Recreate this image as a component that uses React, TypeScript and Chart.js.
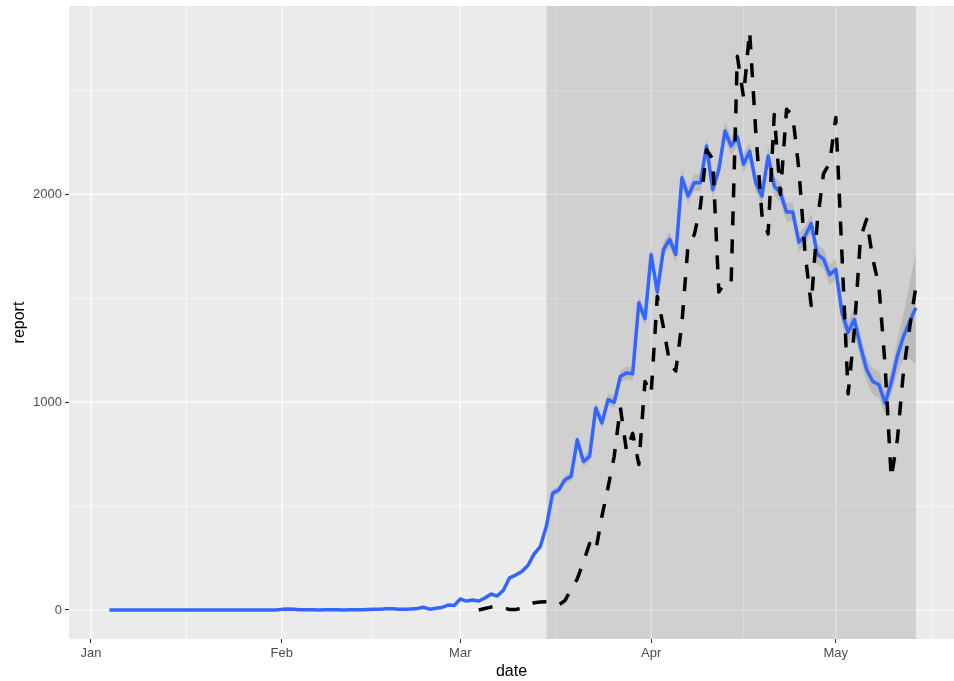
import React, { useEffect, useRef } from "react";
import { Chart, registerables } from "chart.js";

Chart.register(...registerables);

// ---------- data ----------
const YEAR_START = Date.UTC(2020, 0, 1);
const dayOf = (iso: string) => (Date.parse(iso + "T00:00:00Z") - YEAR_START) / 86400000;

const monthTickDates = ["2020-01-01", "2020-02-01", "2020-03-01", "2020-04-01", "2020-05-01"];
const monthTickLabels = ["Jan", "Feb", "Mar", "Apr", "May"];
const monthBoundaryDates = ["2020-01-01", "2020-02-01", "2020-03-01", "2020-04-01", "2020-05-01", "2020-06-01"];
const yMajorTicks = [0, 1000, 2000];
const yMinorTicks = [500, 1500, 2500];

const shadeStart = "2020-03-15";
const shadeEnd = "2020-05-14";

// blue line: daily from 2020-01-04 to 2020-05-14
const blueStart = "2020-01-04";
const blueValues = [
  // Jan 4 - Jan 31
  0, 0, 0, 0, 0, 0, 0, 0, 0, 0, 0, 0, 0, 0, 0, 0, 0, 0, 0, 0, 0, 0, 0, 0, 0, 0, 0, 0,
  // Feb
  3, 5, 3, 1, 1, 1, 0, 1, 1, 1, 0, 1, 1, 1, 2, 3, 4, 6, 6, 4, 3, 5, 7, 13, 4, 8, 12, 24, 22,
  // Mar
  53, 43, 48, 43, 58, 77, 67, 95, 155, 168, 185, 215, 270, 305, 405, 562, 578, 627, 643, 819,
  715, 739, 972, 900, 1012, 999, 1124, 1141, 1137, 1478, 1402,
  // Apr
  1711, 1530, 1735, 1783, 1711, 2080, 1992, 2056, 2056, 2233, 2024, 2120, 2305, 2233, 2278,
  2145, 2207, 2056, 1992, 2185, 2040, 2008, 1915, 1915, 1770, 1799, 1860, 1711, 1690, 1614,
  // May 1 - 14
  1639, 1430, 1337, 1398, 1269, 1157, 1100, 1084, 996, 1093, 1221, 1317, 1389, 1454,
];

// confidence band half-width around blue line, daily from 2020-03-01
const ribbonStart = "2020-03-01";
const ribbonSpread = [
  4, 4, 4, 4, 5, 5, 6, 6, 7, 8, 9, 10, 12, 14, 16, 18, 20, 20, 22, 22, 24, 24, 26, 26, 28, 28, 30, 30, 32, 32, 34,
  35, 35, 36, 36, 38, 38, 40, 40, 40, 42, 42, 42, 44, 44, 44, 44, 45, 45, 45, 45, 45, 45, 45, 45, 46, 46, 46, 48, 48, 50,
  50, 52, 54, 56, 58, 60, 62, 64, 55, 60, 80, 110, 180, 270,
];

// black dashed line: daily from 2020-03-04 to 2020-05-14
const blackStart = "2020-03-04";
const blackValues = [
  // Mar 4 - 31
  0, 7, 14, 20, 12, 2, 2, 10, 25, 35, 38, 40, 38, 25, 45, 100, 150, 230, 320, 285, 450, 590, 740, 975, 765, 850, 700, 1100,
  // Apr
  1040, 1510, 1360, 1190, 1150, 1380, 1760, 1805, 1940, 2215, 2170, 1530, 1578, 1575, 2665,
  2470, 2785, 2300, 1900, 1810, 2385, 2000, 2410, 2380, 2120, 1720, 1465, 1870, 2100, 2150,
  // May 1 - 14
  2370, 1710, 1040, 1340, 1790, 1880, 1690, 1560, 1180, 635, 820, 1150, 1360, 1555,
];

// ---------- helpers ----------
const series = (start: string, values: number[]) => {
  const d0 = dayOf(start);
  return values.map((v, i) => ({ x: d0 + i, y: v }));
};

const monthTickDays = monthTickDates.map(dayOf);
const minorXDays = monthBoundaryDates.slice(1).map((d, i) => (dayOf(d) + dayOf(monthBoundaryDates[i])) / 2);

const FONT = "'Liberation Sans', Arial, Helvetica, sans-serif";

const panelPlugin = {
  id: "ggpanel",
  beforeDatasetsDraw(chart: any) {
    const { ctx, chartArea: a, scales } = chart;
    const x = scales.x;
    const y = scales.y;
    ctx.save();
    ctx.beginPath();
    ctx.rect(a.left, a.top, a.right - a.left, a.bottom - a.top);
    ctx.clip();
    ctx.fillStyle = "#EBEBEB";
    ctx.fillRect(a.left, a.top, a.right - a.left, a.bottom - a.top);
    ctx.strokeStyle = "#FFFFFF";
    ctx.lineWidth = 0.6;
    ctx.beginPath();
    for (const v of yMinorTicks) {
      const py = y.getPixelForValue(v);
      ctx.moveTo(a.left, py);
      ctx.lineTo(a.right, py);
    }
    for (const v of minorXDays) {
      const px = x.getPixelForValue(v);
      ctx.moveTo(px, a.top);
      ctx.lineTo(px, a.bottom);
    }
    ctx.stroke();
    ctx.lineWidth = 1.2;
    ctx.beginPath();
    for (const v of yMajorTicks) {
      const py = y.getPixelForValue(v);
      ctx.moveTo(a.left, py);
      ctx.lineTo(a.right, py);
    }
    for (const v of monthTickDays) {
      const px = x.getPixelForValue(v);
      ctx.moveTo(px, a.top);
      ctx.lineTo(px, a.bottom);
    }
    ctx.stroke();
    const sx0 = x.getPixelForValue(dayOf(shadeStart));
    const sx1 = x.getPixelForValue(dayOf(shadeEnd));
    ctx.fillStyle = "rgba(0,0,0,0.115)";
    ctx.fillRect(sx0, a.top, sx1 - sx0, a.bottom - a.top);
    ctx.restore();
  },
};

const zeroPad = (s: any) => {
  s.paddingTop = 0;
  s.paddingBottom = 0;
  s.paddingLeft = 0;
  s.paddingRight = 0;
};

export default function App() {
  const canvasRef = useRef<HTMLCanvasElement | null>(null);

  useEffect(() => {
    const canvas = canvasRef.current;
    if (!canvas) return;

    const blueOffset = dayOf(ribbonStart) - dayOf(blueStart);
    const r0 = dayOf(ribbonStart);
    const ribbonLow = ribbonSpread.map((s, i) => ({ x: r0 + i, y: blueValues[blueOffset + i] - s }));
    const ribbonHigh = ribbonSpread.map((s, i) => ({ x: r0 + i, y: blueValues[blueOffset + i] + s }));

    const tickFont = { family: FONT, size: 13 };
    const titleFont = { family: FONT, size: 16 };

    const chart = new Chart(canvas, {
      type: "line",
      data: {
        datasets: [
          {
            label: "black",
            data: series(blackStart, blackValues),
            borderColor: "#000000",
            borderWidth: 3.5,
            borderDash: [14, 14],
            borderCapStyle: "butt",
            borderJoinStyle: "round",
            pointRadius: 0,
            fill: false,
          },
          {
            label: "blue",
            data: series(blueStart, blueValues),
            borderColor: "#3366FF",
            borderWidth: 3.5,
            borderJoinStyle: "round",
            pointRadius: 0,
            fill: false,
          },
          {
            label: "high",
            data: ribbonHigh,
            borderWidth: 0,
            borderColor: "rgba(0,0,0,0)",
            backgroundColor: "rgba(153,153,153,0.4)",
            pointRadius: 0,
            fill: "+1",
          },
          {
            label: "low",
            data: ribbonLow,
            borderWidth: 0,
            borderColor: "rgba(0,0,0,0)",
            pointRadius: 0,
            fill: false,
          },
        ],
      },
      options: {
        animation: false,
        responsive: false,
        maintainAspectRatio: false,
        layout: { padding: { top: 6, right: 0, left: 0, bottom: 0 } },
        plugins: {
          legend: { display: false },
          tooltip: { enabled: false },
        },
        elements: { line: { tension: 0 }, point: { radius: 0 } },
        scales: {
          x: {
            type: "linear",
            min: -3.57,
            max: 140.2,
            afterBuildTicks: (s: any) => {
              s.ticks = monthTickDays.map((v) => ({ value: v }));
            },
            afterFit: (s: any) => {
              s.height = 42;
              zeroPad(s);
            },
            grid: {
              display: true,
              drawOnChartArea: false,
              drawTicks: true,
              tickLength: 4,
              tickColor: "#333333",
              tickWidth: 1.1,
            },
            border: { display: false },
            ticks: {
              autoSkip: false,
              maxRotation: 0,
              padding: 3,
              color: "#4D4D4D",
              font: tickFont,
              callback: (v: any) => monthTickLabels[monthTickDays.indexOf(Number(v))] ?? "",
            },
            title: {
              display: true,
              text: "date",
              color: "#000000",
              font: titleFont,
              padding: { top: 0, bottom: 0 },
            },
          },
          y: {
            type: "linear",
            min: -139.6,
            max: 2906.6,
            afterBuildTicks: (s: any) => {
              s.ticks = yMajorTicks.map((v) => ({ value: v }));
            },
            afterFit: (s: any) => {
              s.width = 69;
              zeroPad(s);
            },
            grid: {
              display: true,
              drawOnChartArea: false,
              drawTicks: true,
              tickLength: 4,
              tickColor: "#333333",
              tickWidth: 1.1,
            },
            border: { display: false },
            ticks: {
              padding: 3,
              color: "#4D4D4D",
              font: tickFont,
              callback: (v: any) => String(v),
            },
            title: {
              display: true,
              text: "report",
              color: "#000000",
              font: titleFont,
              padding: { top: 10, bottom: 0 },
            },
          },
        },
      },
      plugins: [panelPlugin],
    } as any);

    return () => chart.destroy();
  }, []);

  return (
    <div style={{ position: "fixed", left: 0, top: 0, width: 954, height: 681, background: "#FFFFFF" }}>
      <canvas ref={canvasRef} width={954} height={681} style={{ display: "block" }} />
    </div>
  );
}
